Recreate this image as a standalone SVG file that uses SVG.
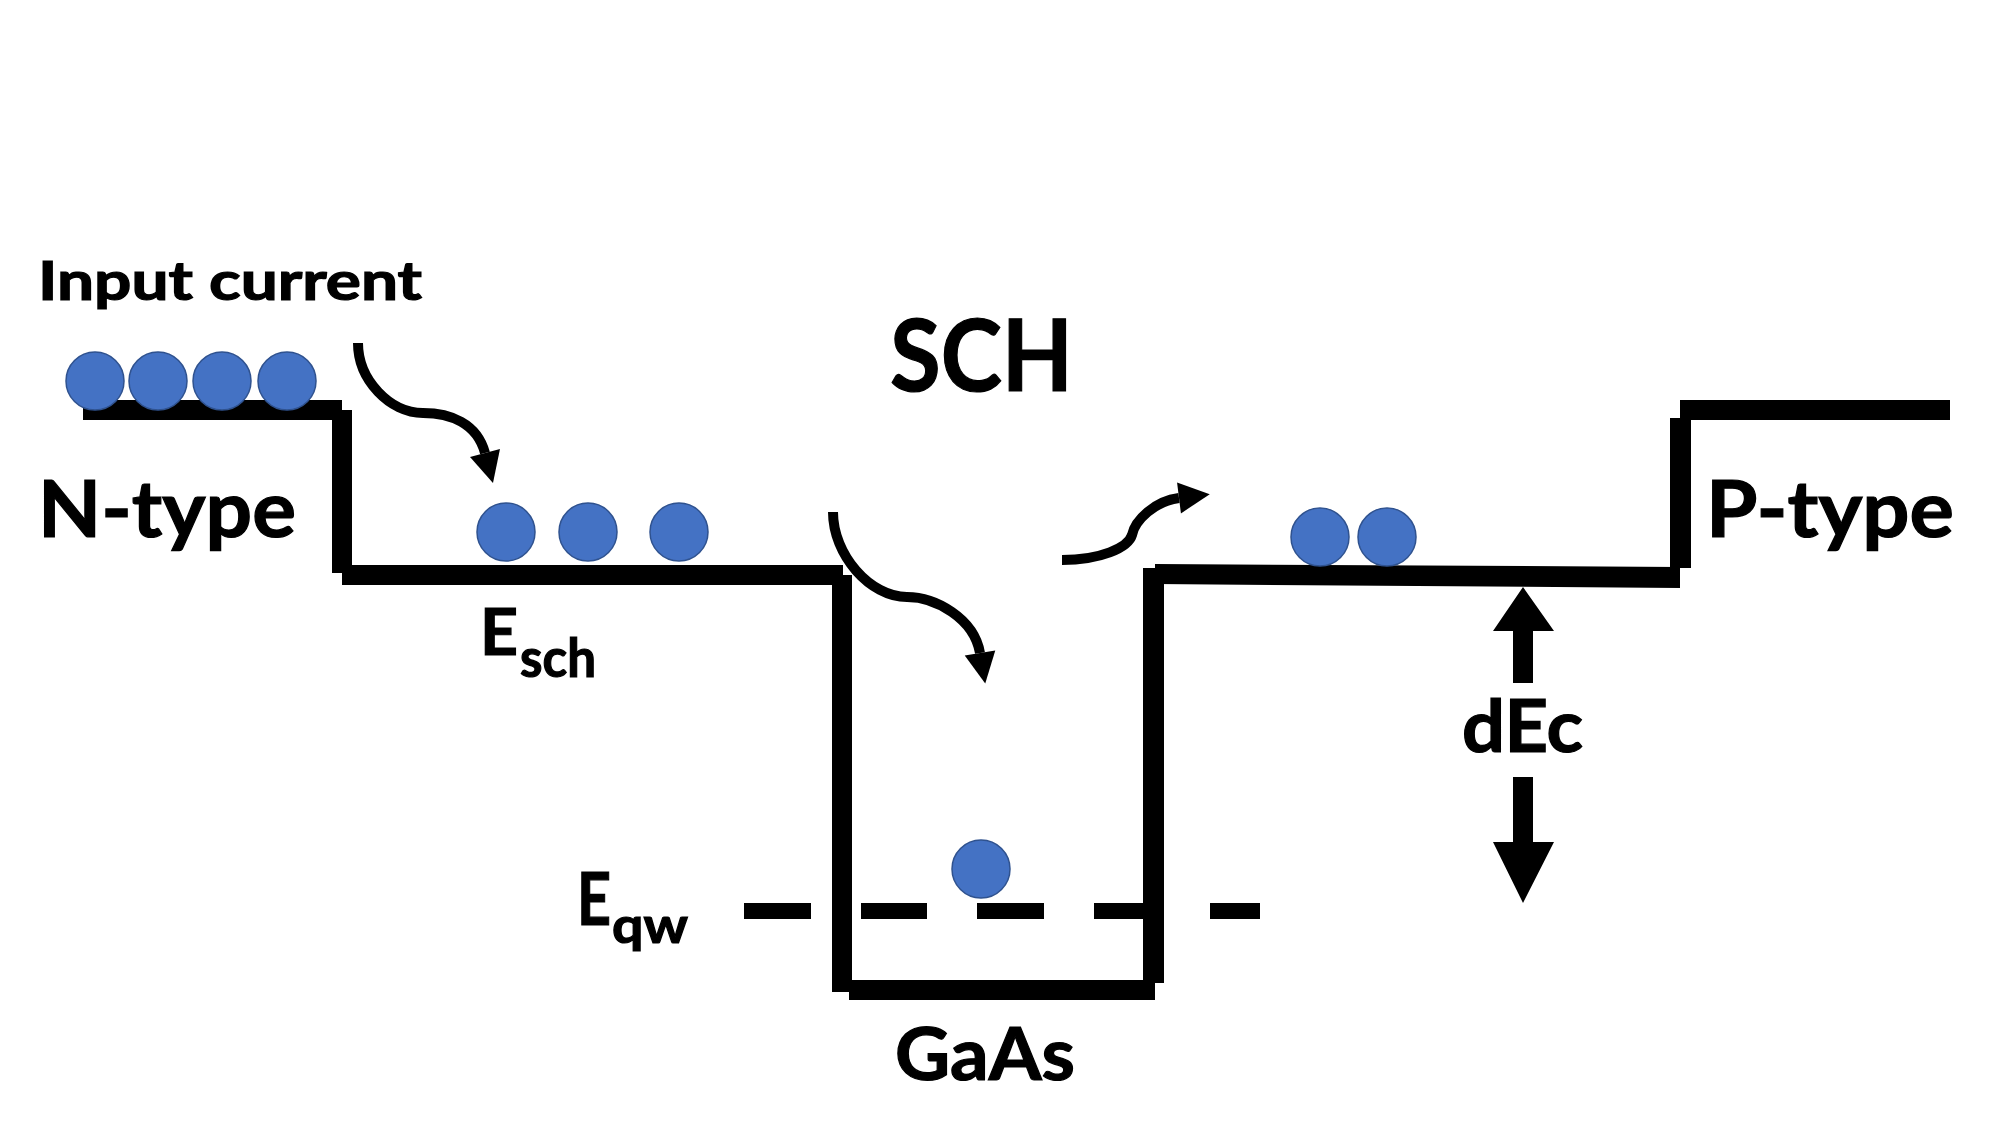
<svg xmlns="http://www.w3.org/2000/svg" width="2000" height="1125" viewBox="0 0 2000 1125">
  <style>
    .lbl { font-family: Lato, "Liberation Sans", sans-serif; font-weight: 700; fill: #000; stroke: #000; stroke-width: 1.2; }
    .band { fill: #000; }
    .e { fill: #4472C4; stroke: #2F528F; stroke-width: 1.5; }
    .flow { fill: none; stroke: #000; stroke-width: 10; }
  </style>
  <defs>
    <marker id="head" markerUnits="userSpaceOnUse" viewBox="-1 -16 33 32" markerWidth="33" markerHeight="32" refX="0" refY="0" orient="auto">
      <polygon points="0,-15.5 31,0 0,15.5" fill="#000"/>
    </marker>
  </defs>
  <rect width="2000" height="1125" fill="#fff"/>

  <g id="band-edge">
    <rect class="band" x="83" y="400" width="259" height="20"/>
    <rect class="band" x="332" y="410" width="20" height="163"/>
    <rect class="band" x="342" y="565" width="501" height="20"/>
    <rect class="band" x="832" y="575" width="20" height="417"/>
    <rect class="band" x="849" y="980" width="306" height="20"/>
    <rect class="band" x="1143" y="568" width="21" height="415"/>
    <polygon class="band" points="1155,564 1680,567 1680,588 1155,584"/>
    <rect class="band" x="1670" y="418" width="21" height="150"/>
    <rect class="band" x="1680" y="400" width="270" height="20"/>
  </g>

  <g id="eqw-level">
    <rect class="band" x="744" y="903" width="67" height="16"/>
    <rect class="band" x="861" y="903" width="66" height="16"/>
    <rect class="band" x="977" y="903" width="67" height="16"/>
    <rect class="band" x="1094" y="903" width="56" height="16"/>
    <rect class="band" x="1210" y="903" width="50" height="16"/>
  </g>

  <g id="electrons-n">
    <circle class="e" cx="95" cy="381" r="29"/>
    <circle class="e" cx="158" cy="381" r="29"/>
    <circle class="e" cx="222" cy="381" r="29"/>
    <circle class="e" cx="287" cy="381" r="29"/>
  </g>
  <g id="electrons-sch-left">
    <circle class="e" cx="506" cy="532" r="29"/>
    <circle class="e" cx="588" cy="532" r="29"/>
    <circle class="e" cx="679" cy="532" r="29"/>
  </g>
  <g id="electron-qw">
    <circle class="e" cx="981" cy="869" r="29"/>
  </g>
  <g id="electrons-sch-right">
    <circle class="e" cx="1320" cy="537" r="29"/>
    <circle class="e" cx="1387" cy="537" r="29"/>
  </g>

  <g id="connectors">
    <path class="flow" d="M358,343 C358,380 390,413 423,413 C450,413 477,423 485,453" marker-end="url(#head)"/>
    <path class="flow" d="M833,512 C833,555 870,597 907,597 C935,597 974,618 980,653" marker-end="url(#head)"/>
    <path class="flow" d="M1062,560 C1100,560 1128,548 1132,535 C1135,520 1155,501 1179,498" marker-end="url(#head)"/>
    <g id="dEc-arrows">
      <polygon class="band" points="1523,587 1554,631 1533,631 1533,683 1513,683 1513,631 1493,631"/>
      <polygon class="band" points="1513,777 1533,777 1533,842 1554,842 1523,903 1493,842 1513,842"/>
    </g>
  </g>

  <g id="label-input-current"><text class="lbl" x="38" y="300" font-size="53" textLength="384" lengthAdjust="spacingAndGlyphs">Input current</text></g>
  <g id="label-sch"><text class="lbl" x="890" y="391" font-size="99" textLength="183" lengthAdjust="spacingAndGlyphs">SCH</text></g>
  <g id="label-ntype"><text class="lbl" x="38" y="537" font-size="79" textLength="258" lengthAdjust="spacingAndGlyphs">N-type</text></g>
  <g id="label-ptype"><text class="lbl" x="1706" y="537" font-size="79" textLength="248" lengthAdjust="spacingAndGlyphs">P-type</text></g>
  <g id="label-dEc"><text class="lbl" x="1462" y="752" font-size="72" textLength="121" lengthAdjust="spacingAndGlyphs">dEc</text></g>
  <g id="label-gaas"><text class="lbl" x="895" y="1080" font-size="72" textLength="180" lengthAdjust="spacingAndGlyphs">GaAs</text></g>
  <g id="label-esch"><text class="lbl" x="480" y="655" font-size="65" textLength="38" lengthAdjust="spacingAndGlyphs">E</text><text class="lbl" x="520" y="677" font-size="53" textLength="76" lengthAdjust="spacingAndGlyphs">sch</text></g>
  <g id="label-eqw"><text class="lbl" x="577" y="925" font-size="72" textLength="34" lengthAdjust="spacingAndGlyphs">E</text><text class="lbl" x="612" y="943" font-size="50" textLength="76" lengthAdjust="spacingAndGlyphs">qw</text></g>
</svg>
